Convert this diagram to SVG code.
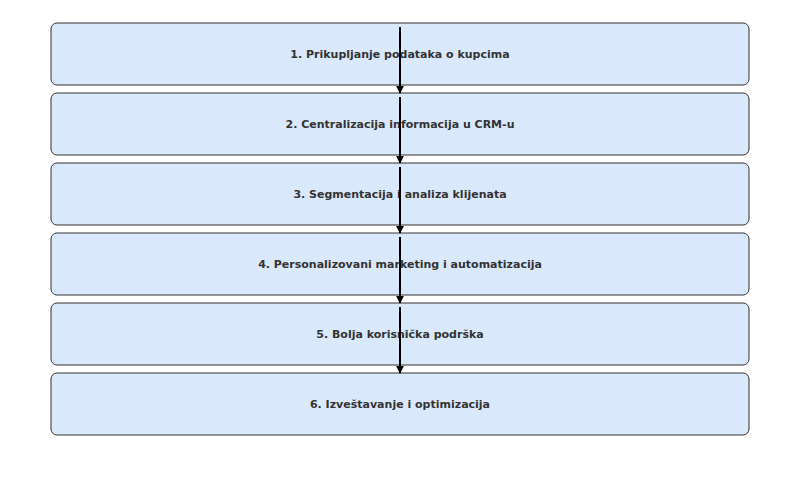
<svg xmlns="http://www.w3.org/2000/svg" width="800" height="480" viewBox="0 0 800 480">
<style>
.b{fill:#dae8fc;stroke:#333;stroke-width:1}
.t{font-family:"DejaVu Sans",sans-serif;font-size:11px;font-weight:bold;fill:#333;text-anchor:middle}
.c{stroke:#000;stroke-width:2;fill:none;marker-end:url(#a)}
</style>
<defs><marker id="a" viewBox="0 0 10 10" refX="9" refY="5" markerWidth="4" markerHeight="4" orient="auto" markerUnits="strokeWidth"><path d="M0,0L10,5L0,10z" fill="#000"/></marker></defs>
<rect width="800" height="480" fill="#fff"/>
<g id="n1"><rect class="b" x="51" y="23" width="698" height="62" rx="6"/><text class="t" x="400" y="58">1. Prikupljanje podataka o kupcima</text></g>
<g id="n2"><rect class="b" x="51" y="93" width="698" height="62" rx="6"/><text class="t" x="400" y="128">2. Centralizacija informacija u CRM-u</text></g>
<g id="n3"><rect class="b" x="51" y="163" width="698" height="62" rx="6"/><text class="t" x="400" y="198">3. Segmentacija i analiza klijenata</text></g>
<g id="n4"><rect class="b" x="51" y="233" width="698" height="62" rx="6"/><text class="t" x="400" y="268">4. Personalizovani marketing i automatizacija</text></g>
<g id="n5"><rect class="b" x="51" y="303" width="698" height="62" rx="6"/><text class="t" x="400" y="338">5. Bolja korisnička podrška</text></g>
<g id="n6"><rect class="b" x="51" y="373" width="698" height="62" rx="6"/><text class="t" x="400" y="408">6. Izveštavanje i optimizacija</text></g>
<g id="connectors">
<line class="c" x1="400" y1="27" x2="400" y2="93"/>
<line class="c" x1="400" y1="97" x2="400" y2="163"/>
<line class="c" x1="400" y1="167" x2="400" y2="233"/>
<line class="c" x1="400" y1="237" x2="400" y2="303"/>
<line class="c" x1="400" y1="307" x2="400" y2="373"/>
</g>
</svg>
